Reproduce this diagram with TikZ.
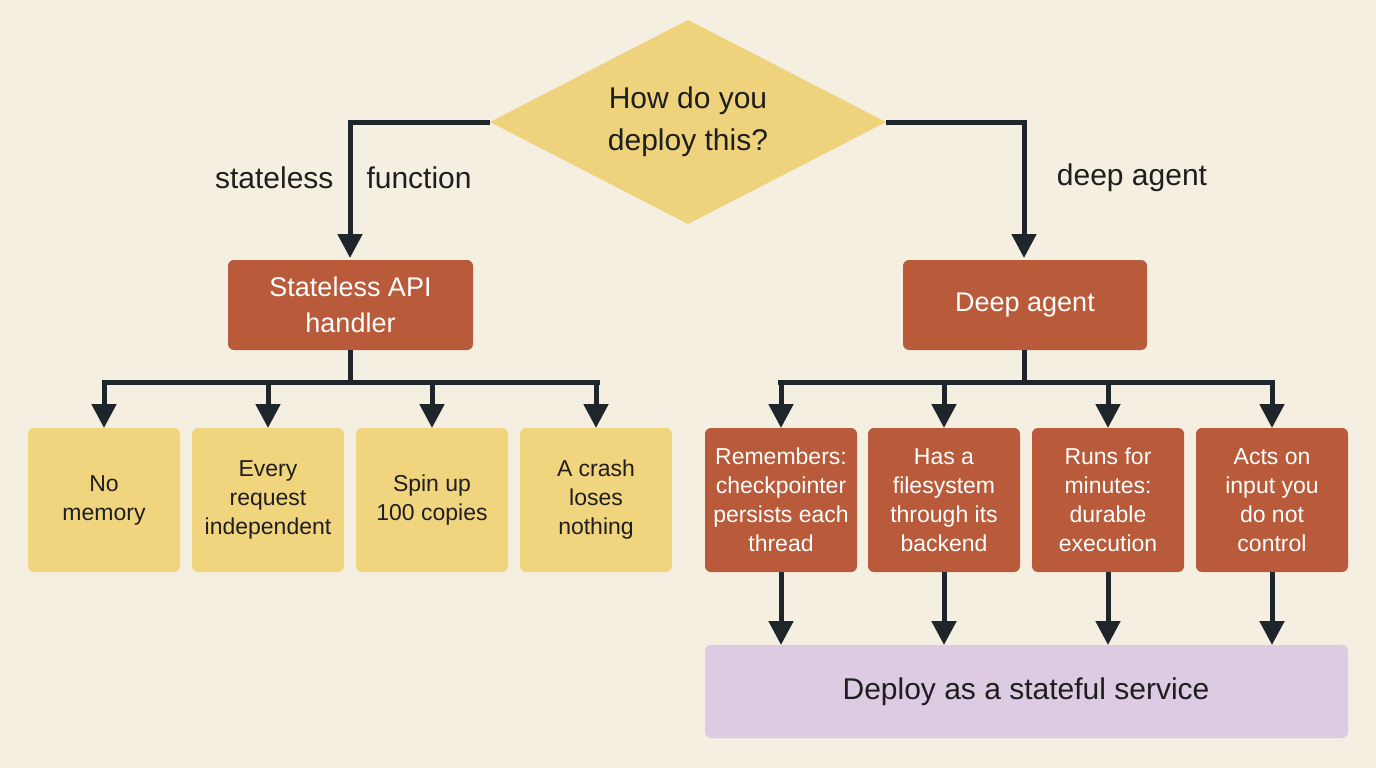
\documentclass[tikz,border=0pt]{standalone}
\usepackage{fontspec}
\setmainfont{Liberation Sans}
\usetikzlibrary{arrows.meta,shapes.geometric}
\definecolor{bg}{HTML}{F4EFE1}
\definecolor{dia}{HTML}{EFD27C}
\definecolor{red}{HTML}{B95A3A}
\definecolor{yel}{HTML}{F1D47E}
\definecolor{pur}{HTML}{DDCBE3}
\definecolor{ln}{HTML}{1E262B}
\definecolor{txt}{HTML}{1E1E1E}
\begin{document}
\begin{tikzpicture}[x=1pt,y=-1pt,
  box/.style={rounded corners=6pt,draw=none,align=center,inner sep=0pt},
  conn/.style={draw=ln,line width=5pt},
  arr/.style={conn,-{Triangle[width=24pt,length=24pt]}},
  lab/.style={font=\fontsize{30}{34}\selectfont,text=txt}]
\fill[bg] (0,0) rectangle (1376,768);
\useasboundingbox (0,0) rectangle (1376,768);
% diamond
\fill[dia] (490,122) -- (688,20) -- (886,122) -- (688,224) -- cycle;
\node[lab,align=center,font=\fontsize{30}{42}\selectfont] (q) at (688,122) {How do you\\deploy this?};
\coordinate (ql) at (490,122); \coordinate (qr) at (886,122);
% top boxes
\path[box,fill=red] (228,260) rectangle (473,350);
\node[text=white,align=center,font=\fontsize{27}{36}\selectfont] (sa) at (350.5,305) {Stateless API\\handler};
\path[box,fill=red] (903,260) rectangle (1147,350);
\node[text=white,font=\fontsize{27}{32}\selectfont] (da) at (1025,305) {Deep agent};
\coordinate (sat) at (350,258); \coordinate (dat) at (1024,258);
\coordinate (sab) at (350,350); \coordinate (dab) at (1024,350);
\draw[arr] (ql) -- (350,122) -- (sat);
\draw[arr] (qr) -- (1024,122) -- (dat);
\node[lab,anchor=east] (l1) at (337,178) {stateless};
\node[lab,anchor=west] (l2) at (363,178) {function};
\node[lab] (l3) at (1132,178) {deep agent};
% yellow boxes
\foreach \i/\xa/\t in {1/28/{No\\memory},2/192/{Every\\request\\independent},3/356/{Spin up\\100 copies},4/520/{A crash\\loses\\nothing}}{
  \path[box,fill=yel] (\xa,428) rectangle ({\xa+152},572);
  \node[align=center,text=txt,font=\fontsize{23}{29}\selectfont] (y\i) at ({\xa+76},500) {\t};
  \coordinate (yt\i) at ({\xa+76},428);
}
\draw[conn] (sab) -- (350,382);
\draw[conn,line cap=rect] (104,382) -- (597,382);
\foreach \i in {1,...,4}{\draw[arr] (yt\i |- 0,380) -- (yt\i);}
% red boxes
\foreach \i/\xa/\t in {1/705/{Remembers:\\checkpointer\\persists each\\thread},2/868/{Has a\\filesystem\\through its\\backend},3/1032/{Runs for\\minutes:\\durable\\execution},4/1196/{Acts on\\input you\\do not\\control}}{
  \path[box,fill=red] (\xa,428) rectangle ({\xa+152},572);
  \node[align=center,text=white,font=\fontsize{23}{29}\selectfont] (r\i) at ({\xa+76},500) {\t};
  \coordinate (rt\i) at ({\xa+76},428);
  \coordinate (rb\i) at ({\xa+76},572);
  \coordinate (pt\i) at ({\xa+76},645);
}
\draw[conn] (dab) -- (1024,382);
\draw[conn,line cap=rect] (780,382) -- (1272,382);
\foreach \i in {1,...,4}{\draw[arr] (rt\i |- 0,380) -- (rt\i);}
% purple
\path[box,fill=pur] (705,645) rectangle (1348,738);
\node[text=txt,font=\fontsize{30}{34}\selectfont] (ps) at (1026,692) {Deploy as a stateful service};
\foreach \i in {1,...,4}{\draw[arr] (rb\i) -- (pt\i);}
\end{tikzpicture}
\end{document}
